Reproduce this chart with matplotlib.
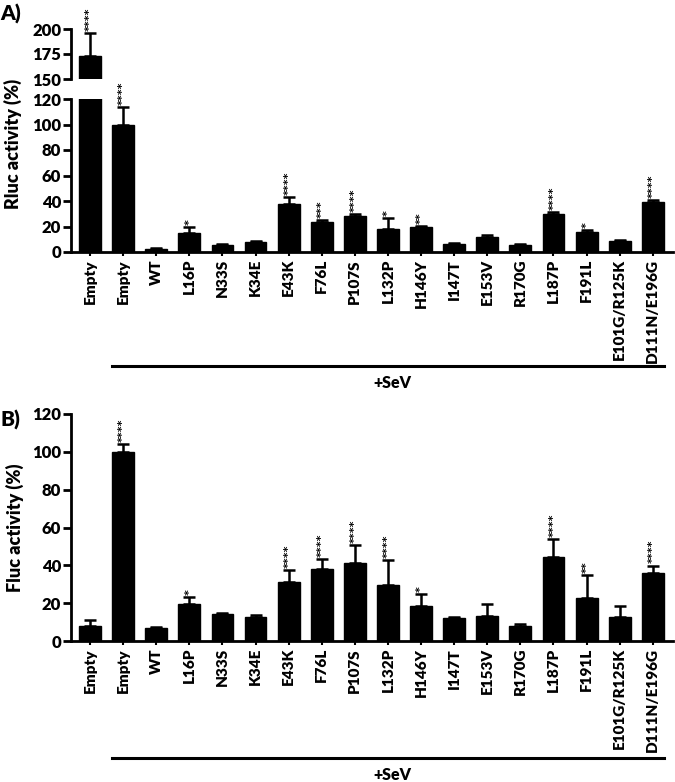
import matplotlib
matplotlib.use("Agg")
import matplotlib.pyplot as plt
from matplotlib.transforms import blended_transform_factory

plt.rcParams["font.family"] = ["Lato", "DejaVu Sans"]
plt.rcParams["font.weight"] = "heavy"

labels = ["Empty", "Empty", "WT", "L16P", "N33S", "K34E", "E43K", "F76L",
          "P107S", "L132P", "H146Y", "I147T", "E153V", "R170G", "L187P",
          "F191L", "E101G/R125K", "D111N/E196G"]

# panel A: Rluc activity (%)
rluc = [173, 100, 2.5, 15, 5.5, 7.5, 38, 23.5, 28, 18, 19.6, 6, 11.5, 5.5,
        30, 15.5, 8.5, 39]
rluc_err = [23, 14, 1, 4.5, 1, 1, 5, 1.5, 1.8, 8.5, 0.8, 1, 1.5, 1,
            1, 1.5, 1, 1.5]
rluc_sig = ["****", "****", "", "*", "", "", "****", "***", "****", "*",
            "**", "", "", "", "****", "*", "", "****"]

# panel B: Fluc activity (%)
fluc = [8, 100, 6.8, 19.6, 14.3, 12.5, 31, 37.9, 41.4, 29.8, 18.7, 12.1,
        13.4, 7.7, 44.2, 22.6, 12.5, 36.1]
fluc_err = [3.2, 4, 0.5, 3.6, 0.5, 1.3, 6.5, 5.5, 9.3, 13, 6.3, 0.4,
            5.9, 1.4, 9.8, 12.5, 5.9, 3.8]
fluc_sig = ["", "****", "", "*", "", "", "****", "****", "****", "****",
            "*", "", "", "", "****", "**", "", "****"]

W, H = 675, 782
fig = plt.figure(figsize=(W / 100, H / 100), dpi=100)

x = list(range(len(labels)))
xlim = (-0.574, 17.61)
bw = 0.66
LW = 2.0


def rect(top, bottom):
    return [71 / W, 1 - bottom / H, (673 - 71) / W, (bottom - top) / H]


def style(ax):
    for s in ("top", "right"):
        ax.spines[s].set_visible(False)
    for s in ("left", "bottom"):
        ax.spines[s].set_linewidth(LW)
    ax.tick_params(axis="y", width=LW, length=6, labelsize=12, pad=1)
    ax.tick_params(axis="x", width=1.5, length=3, labelsize=11, pad=2)
    ax.set_xlim(*xlim)


def draw(ax, vals, errs):
    ax.bar(x, vals, width=bw, color="black", edgecolor="black")
    ax.errorbar(x, vals, yerr=[[0] * len(vals), errs], fmt="none",
                ecolor="black", elinewidth=1.8, capsize=4.5, capthick=1.8)


def stars(ax, vals, errs, sig, only=None):
    for i, (v, e, s) in enumerate(zip(vals, errs, sig)):
        if not s or (only is not None and i not in only):
            continue
        ax.annotate(s, (i, v + e), xytext=(0, 1.5), textcoords="offset points",
                    rotation=90, ha="center", va="bottom", fontsize=8,
                    family="DejaVu Sans", fontweight="bold",
                    annotation_clip=False)


def sev_line(ax, y_line, y_text):
    tr = blended_transform_factory(ax.transData, fig.transFigure)
    ax.plot([0.67, 17.33], [y_line, y_line], color="black", lw=2.2,
            transform=tr, clip_on=False)
    fig.text(392 / W, y_text, "+SeV", ha="center", va="center", fontsize=11.5)


# ---- panel A (broken axis)
axu = fig.add_axes(rect(29, 79))
axl = fig.add_axes(rect(99, 252))
for ax in (axu, axl):
    style(ax)
    draw(ax, rluc, rluc_err)
axu.set_ylim(150, 200)
axu.set_yticks([150, 175, 200])
axu.spines["bottom"].set_visible(False)
axu.set_xticks([])
stars(axu, rluc, rluc_err, rluc_sig, only=[0])
axl.set_ylim(0, 120)
axl.set_yticks(range(0, 121, 20))
axl.set_xticks(x)
axl.set_xticklabels(labels, rotation=90)
stars(axl, rluc, rluc_err, rluc_sig, only=range(1, len(labels)))
fig.text(13 / W, 1 - 144 / H, "Rluc activity (%)", rotation=90,
         ha="center", va="center", fontsize=13)
fig.text(0, 1 - 14 / H, "A)", ha="left", va="center", fontsize=15)
sev_line(axl, 1 - 366 / H, 1 - 383 / H)

# ---- panel B
axb = fig.add_axes(rect(414, 641))
style(axb)
draw(axb, fluc, fluc_err)
axb.set_ylim(0, 120)
axb.set_yticks(range(0, 121, 20))
axb.set_xticks(x)
axb.set_xticklabels(labels, rotation=90)
stars(axb, fluc, fluc_err, fluc_sig)
fig.text(15 / W, 1 - 528 / H, "Fluc activity (%)", rotation=90,
         ha="center", va="center", fontsize=13)
fig.text(0, 1 - 420 / H, "B)", ha="left", va="center", fontsize=15)
sev_line(axb, 1 - 758 / H, 1 - 775 / H)

fig.savefig("out.png", dpi=100)
